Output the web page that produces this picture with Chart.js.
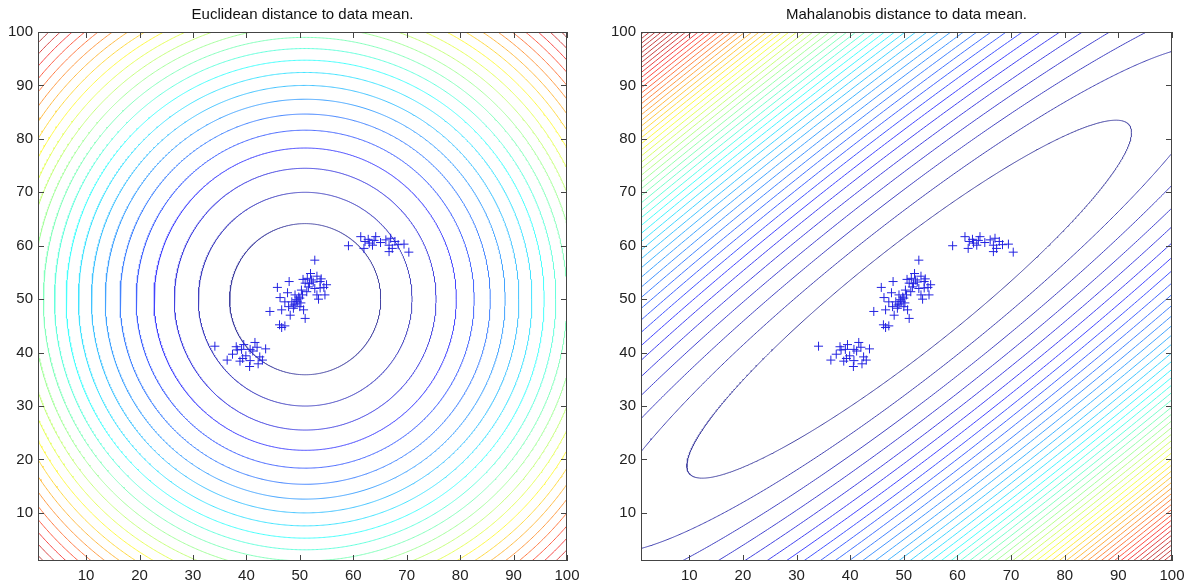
<!DOCTYPE html>
<html>
<head>
<meta charset="utf-8">
<script src="https://cdn.jsdelivr.net/npm/chart.js@4.4.1/dist/chart.umd.min.js"></script>
<style>
  html, body { margin: 0; padding: 0; background: #fff; }
  .panel { position: absolute; top: 0; width: 596px; height: 583px; }
  #leftPanel { left: 0; }
  #rightPanel { left: 596px; }
</style>
</head>
<body>
<div class="panel" id="leftPanel"><canvas id="euclidChart" width="596" height="583"></canvas></div>
<div class="panel" id="rightPanel"><canvas id="mahalChart" width="596" height="583"></canvas></div>
<script>
// Axis ticks
const tickValues = [10, 20, 30, 40, 50, 60, 70, 80, 90, 100];
const axisMin = 1;
const axisMax = 100;

// Sample points
const pointsX = [
    52.8, 50.6, 51.4, 52.2, 53.2, 53.8, 55.0, 54.5, 51.0, 51.6, 52.8, 53.2, 54.7, 51.3, 50.3,
    48.0, 45.8, 47.7, 46.3, 49.1, 50.0, 47.2, 48.5, 49.1, 49.4, 48.8, 50.0, 47.9, 50.7, 44.4,
    48.2, 46.6, 51.0, 46.2, 47.2, 46.6, 53.5, 49.5, 50.2, 49.8, 51.8, 52.5, 53.8, 48.9, 50.5,
    52.0, 54.0,
    34.1, 38.1, 39.1, 41.6, 42.0, 43.6, 40.7, 37.4, 39.9, 36.4, 39.3, 40.7, 42.2, 43.0, 40.6,
    38.3, 41.2, 39.5, 42.5, 38.8,
    59.1, 61.4, 62.2, 62.0, 63.9, 63.6, 64.2, 66.1, 66.7, 67.0, 67.8, 66.7, 69.5, 70.4, 67.3,
    63.0, 65.1, 68.4, 62.8
];
const pointsY = [
    57.3, 53.7, 53.9, 53.6, 54.3, 53.3, 52.7, 52.2, 53.0, 52.3, 52.0, 50.8, 50.8, 51.4, 51.7,
    53.3, 52.2, 51.2, 50.3, 50.8, 50.2, 49.5, 49.5, 49.1, 49.9, 48.3, 48.6, 48.6, 48.0, 47.7,
    47.0, 48.0, 46.4, 45.2, 45.0, 44.7, 50.0, 49.6, 49.3, 50.4, 52.9, 53.2, 52.1, 48.9, 50.8,
    54.8, 53.8,
    41.2, 41.1, 40.6, 41.9, 41.0, 40.7, 40.6, 39.7, 39.4, 38.6, 38.9, 38.5, 37.9, 38.6, 37.4,
    40.5, 40.3, 41.5, 39.2, 38.4,
    60.0, 61.7, 60.8, 59.5, 61.0, 60.1, 61.7, 61.1, 60.1, 61.4, 60.8, 58.9, 60.3, 58.8, 59.5,
    60.5, 60.6, 60.2, 61.2
];

// Data mean
const meanXY = [51, 50];

// Contour levels of squared Euclidean distance
const euclidLevels = [200, 400, 600, 800, 1000, 1200, 1400, 1600, 1800, 2000, 2200, 2400,
    2600, 2800, 3000, 3200, 3400, 3600, 3800, 4000, 4200, 4400, 4600, 4800];

// Covariance (scaled so one contour step = 1) and squared Mahalanobis levels
const mahalCov = [[1718, 1292], [1292, 1122]];
const mahalLevels = [1, 2, 3, 4, 5, 6, 7, 8, 9, 10, 11, 12, 13, 14, 15, 16, 17, 18, 19, 20,
    21, 22, 23, 24, 25, 26, 27, 28, 29, 30, 31, 32, 33, 34, 35, 36, 37, 38, 39, 40,
    41, 42, 43, 44, 45, 46, 47, 48, 49, 50, 51, 52];

const fontFamily = "'Liberation Sans', Arial, sans-serif";

// jet colormap, slightly washed out like the thin lines in the original
function jetColor(t) {
    const c = v => Math.max(0, Math.min(1, v));
    const r = c(1.5 - Math.abs(4 * t - 3));
    const g = c(1.5 - Math.abs(4 * t - 2));
    const b = c(1.5 - Math.abs(4 * t - 1));
    const mix = v => Math.round(255 * (0.74 * v + 0.26));
    return 'rgb(' + mix(r) + ',' + mix(g) + ',' + mix(b) + ')';
}

// points on the level set (p - mean)' inv(cov) (p - mean) = level
function contourPoints(cov, level) {
    const l11 = Math.sqrt(cov[0][0]);
    const l21 = cov[1][0] / l11;
    const l22 = Math.sqrt(cov[1][1] - l21 * l21);
    const r = Math.sqrt(level);
    const pts = [];
    const n = 1200;
    for (let i = 0; i <= n; i++) {
        const a = 2 * Math.PI * i / n;
        const u = r * Math.cos(a), v = r * Math.sin(a);
        pts.push({ x: meanXY[0] + l11 * u, y: meanXY[1] + l21 * u + l22 * v });
    }
    return pts;
}

// colour range: from the first level up to colorTop (clamped above)
function contourDatasets(cov, levels, colorTop, tMax) {
    const lo = levels[0];
    return levels.map(level => ({
        data: contourPoints(cov, level),
        showLine: true,
        borderColor: jetColor(Math.min(1, (level - lo) / (colorTop - lo)) * tMax),
        borderWidth: 1,
        pointRadius: 0,
        fill: false
    }));
}

const scatterDataset = {
    data: pointsX.map((x, i) => ({ x: x, y: pointsY[i] })),
    pointStyle: 'cross',
    pointRadius: 4.5,
    pointBorderWidth: 1,
    pointBorderColor: 'rgb(35,35,225)',
    borderColor: 'rgb(35,35,225)',
    showLine: false
};

// box and inward ticks on all four sides
const matlabFrame = {
    id: 'matlabFrame',
    afterDatasetsDraw(chart) {
        const { ctx, chartArea: a, scales: { x, y } } = chart;
        ctx.save();
        ctx.strokeStyle = '#444';
        ctx.lineWidth = 1;
        ctx.beginPath();
        tickValues.forEach(v => {
            const px = Math.round(x.getPixelForValue(v)) + 0.5;
            ctx.moveTo(px, a.bottom); ctx.lineTo(px, a.bottom - 6);
            ctx.moveTo(px, a.top); ctx.lineTo(px, a.top + 6);
            const py = Math.round(y.getPixelForValue(v)) + 0.5;
            ctx.moveTo(a.left, py); ctx.lineTo(a.left + 6, py);
            ctx.moveTo(a.right, py); ctx.lineTo(a.right - 6, py);
        });
        ctx.stroke();
        ctx.strokeRect(Math.round(a.left) + 0.5, Math.round(a.top) + 0.5,
            Math.round(a.width) - 1, Math.round(a.height) - 1);
        ctx.restore();
    }
};

function makeConfig(title, datasets, yWidth, padRight) {
    const tickFont = { family: fontFamily, size: 15 };
    return {
        type: 'scatter',
        data: { datasets: [scatterDataset].concat(datasets) },
        options: {
            responsive: false,
            animation: false,
            events: [],
            layout: { padding: { top: 0, right: padRight, bottom: 0, left: 0 } },
            plugins: {
                legend: { display: false },
                tooltip: { enabled: false },
                title: {
                    display: true,
                    text: title,
                    fullSize: false,
                    color: '#111',
                    font: { family: fontFamily, size: 15, weight: 'normal' },
                    padding: { top: 6, bottom: 8 }
                }
            },
            scales: {
                x: {
                    type: 'linear', min: axisMin, max: axisMax,
                    afterBuildTicks: s => { s.ticks = tickValues.map(v => ({ value: v })); },
                    afterFit: s => { s.height = 22; },
                    grid: { display: false, drawTicks: false },
                    border: { display: false },
                    ticks: { padding: 6, font: tickFont, color: '#222', maxRotation: 0, autoSkip: false }
                },
                y: {
                    type: 'linear', min: axisMin, max: axisMax,
                    afterBuildTicks: s => { s.ticks = tickValues.map(v => ({ value: v })); },
                    afterFit: s => { s.width = yWidth; },
                    grid: { display: false, drawTicks: false },
                    border: { display: false },
                    ticks: { padding: 5, font: tickFont, color: '#222', autoSkip: false }
                }
            }
        },
        plugins: [matlabFrame]
    };
}

new Chart(document.getElementById('euclidChart').getContext('2d'),
    makeConfig('Euclidean distance to data mean.',
        contourDatasets([[1, 0], [0, 1]], euclidLevels, 4800, 0.97), 38, 29));
new Chart(document.getElementById('mahalChart').getContext('2d'),
    makeConfig('Mahalanobis distance to data mean.',
        contourDatasets(mahalCov, mahalLevels, 46, 0.95), 45, 20));
</script>
</body>
</html>
